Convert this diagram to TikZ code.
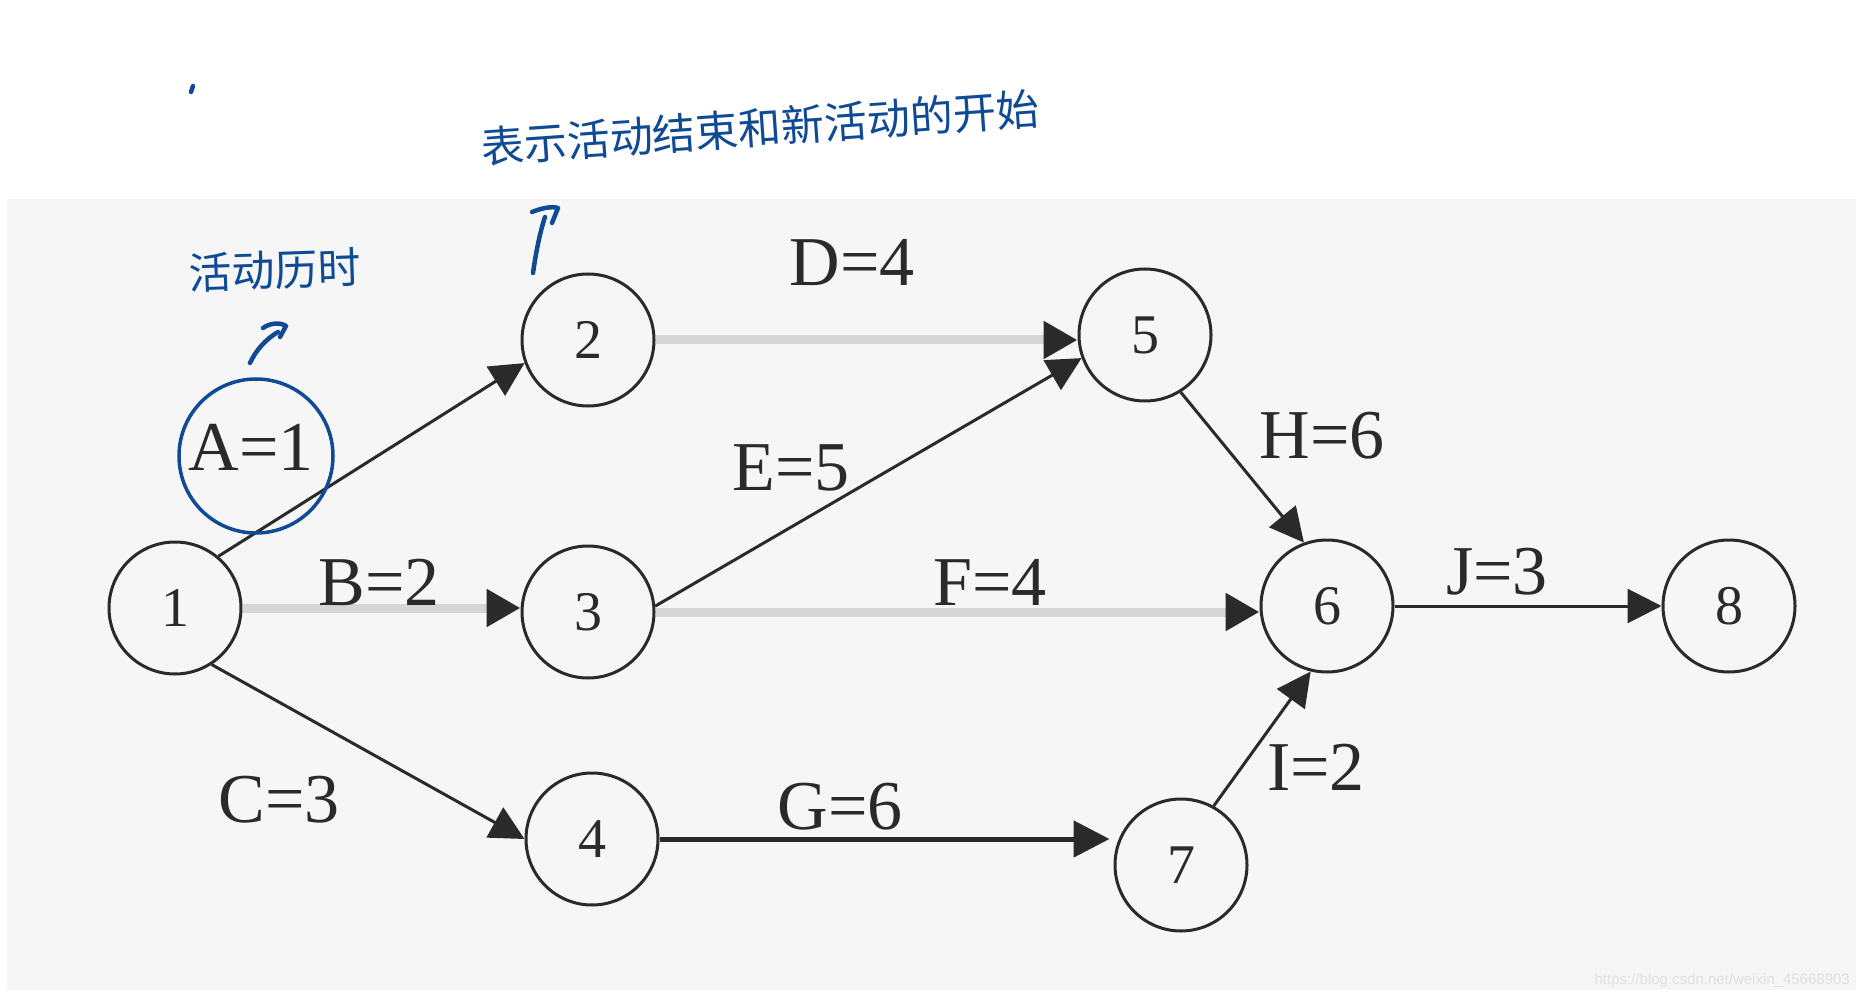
\documentclass[tikz,border=0pt]{standalone}
\usepackage{fontspec}
\setmainfont{Liberation Serif}
\setsansfont{Liberation Sans}
\newfontfamily\cjk{Noto Sans CJK SC}
\usetikzlibrary{arrows.meta}
\definecolor{bgray}{HTML}{F6F6F6}
\definecolor{ink}{HTML}{2A2A2A}
\definecolor{pale}{HTML}{D6D6D6}
\definecolor{pen}{HTML}{0F4A95}
\definecolor{wmark}{HTML}{E0E0E0}
\begin{document}
\begin{tikzpicture}[x=1pt,y=-1pt,
  evnode/.style={circle, draw=ink, line width=3pt, minimum size=132pt, inner sep=0pt,
    text=ink, font=\fontsize{56}{56}\selectfont},
  actlabel/.style={inner sep=0pt, text=ink, font=\fontsize{70}{70}\selectfont},
  thinarr/.style={draw=ink, line width=3pt, -{Triangle[length=34pt,width=34pt]}},
  boldarr/.style={draw=ink, line width=5pt, -{Triangle[length=36pt,width=36pt]}},
  palearr/.style={draw=pale, line width=9pt, -{Triangle[length=34pt,width=36pt,color=ink]}},
  penline/.style={draw=pen, line width=4.5pt, line cap=round, line join=round},
  handtext/.style={text=pen, font=\cjk\fontsize{43}{43}\selectfont, inner sep=0pt}
]
\useasboundingbox (0,0) rectangle (1856,1000);
\fill[white] (0,0) rectangle (1856,1000);
\fill[bgray] (7,199) rectangle (1856,990);

% events
\node[evnode] (n1) at (175,608) {1};
\node[evnode] (n2) at (588,340) {2};
\node[evnode] (n3) at (588,612) {3};
\node[evnode] (n4) at (592,839) {4};
\node[evnode] (n5) at (1145,335) {5};
\node[evnode] (n6) at (1327,606) {6};
\node[evnode] (n7) at (1181,865) {7};
\node[evnode] (n8) at (1729,606) {8};

% activities
\draw[thinarr] (n1.50) -- (n2.200);
\draw[palearr] (n1.east) -- (n1.east -| n3.west);
\draw[thinarr] (n1.-57) -- (n4.west);
\draw[palearr] (n2.east) -- (n2.east -| n5.west);
\draw[thinarr] (n3.5) -- (n5.200);
\draw[palearr] (n3.east) -- (n3.east -| n6.west);
\draw[boldarr] (n4.east) -- ([xshift=-4pt]n4.east -| n7.west);
\draw[thinarr] (n5.-58) -- (n6.110);
\draw[thinarr] (n7.61) -- (n6.-104);
\draw[thinarr] (n6.east) -- (n8.west);

% activity labels
\node[actlabel] (la) at (251,447) {A=1};
\node[actlabel] (lb) at (379,582) {B=2};
\node[actlabel] (lc) at (279,800) {C=3};
\node[actlabel] (ld) at (852,263) {D=4};
\node[actlabel] (le) at (791,468) {E=5};
\node[actlabel] (lf) at (990,582) {F=4};
\node[actlabel] (lg) at (840,807) {G=6};
\node[actlabel] (lh) at (1322,436) {H=6};
\node[actlabel] (li) at (1316,767) {I=2};
\node[actlabel] (lj) at (1497,572) {J=3};

% handwritten annotations
\draw[pen, line width=3.5pt] (256,456) circle[radius=77pt];
\node[handtext, rotate=4] (t1) at (760,128) {表示活动结束和新活动的开始};
\node[handtext, rotate=2] (t2) at (275,270) {活动历时};
\draw[penline] (250,363) .. controls (256,350) and (266,339) .. (278,332);
\draw[penline] (263,328) .. controls (270,323) and (280,322) .. (286,326) -- (280,337);
\draw[penline] (533,273) .. controls (536,252) and (540,232) .. (545,217);
\draw[penline] (532,212) .. controls (542,208) and (552,206) .. (558,208) -- (552,223);
\draw[penline] (191,92) -- (193,86);

% watermark
\node[anchor=east, text=wmark, inner sep=0pt, font=\sffamily\fontsize{15}{15}\selectfont] (wm) at (1850,981) {https://blog.csdn.net/weixin\_45668903};
\end{tikzpicture}
\end{document}
